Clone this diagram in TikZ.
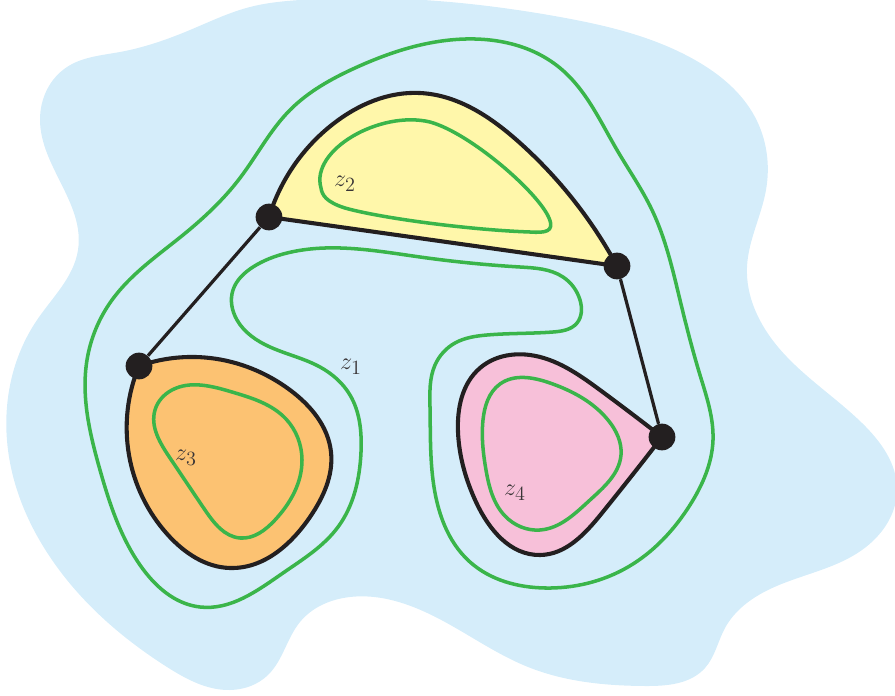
\documentclass[tikz,border=0pt]{standalone}
\usepackage{amsmath,amssymb}
\usepackage{tikz}
\usetikzlibrary{positioning,calc,hobby}
\usepackage{xcolor}
\definecolor{skyfill}{RGB}{213,237,250}
\definecolor{lemon}{RGB}{255,247,170}
\definecolor{peach}{RGB}{252,194,114}
\definecolor{blush}{RGB}{247,192,217}
\definecolor{loopgreen}{RGB}{58,181,74}
\definecolor{ink}{RGB}{35,31,32}

\begin{document}
\begin{tikzpicture}[x=0.025cm,y=-0.025cm,
  smoothloop/.style={use Hobby shortcut,closed=true},
  vertex/.style={circle,fill=ink,inner sep=0pt,minimum size=19pt},
  face/.style={use Hobby shortcut,draw=ink,line width=2.9pt,line join=round},
  contour/.style={draw=loopgreen,line width=2.5pt},
  edge/.style={draw=ink,line width=2.3pt},
  zlabel/.style={font=\fontsize{19}{22}\selectfont,text=ink!90}]
\useasboundingbox (0,0) rectangle (895,696);
\clip (0,0) rectangle (895,696);
% Background region
\fill[skyfill,smoothloop] (300,0) .. (560,17) .. (695,60) .. (755,117)
  .. (766,190) .. (747,267) .. (778,347) .. (862,423) .. (897,490)
  .. (862,550) .. (768,590) .. (725,628) .. (705,668) .. (645,686)
  .. (528,667) .. (445,622) .. (350,597) .. (300,622) .. (268,675)
  .. (230,690) .. (167,667) .. (50,557) .. (8,450) .. (37,320) .. (78,250)
  .. (40,120) .. (67,67) .. (120,52) .. (190,30) .. (250,7);
% Vertices
\coordinate (v1) at (269,217);
\coordinate (v2) at (617,266);
\coordinate (v3) at (139,366);
\coordinate (v4) at (662,437);
% Faces
\path[face,fill=lemon] (v1) .. (333,124) .. (420,93) .. (520,143)
  .. (v2) -- cycle;
\path[face,fill=peach] (v3) .. (210,358) .. (290,390) .. (331,452)
  .. (310,517) .. (230,568) .. (168,535) .. (129,455) .. (v3) -- cycle;
\path[face,fill=blush] (v4) .. (600,390) .. (530,355) .. (480,368)
  .. (458,432) .. (476,502) .. (540,555) .. (602,513) .. (v4) -- cycle;
% Contours
\path[contour,smoothloop] (450,40) .. (560,68) .. (617,150) .. (652,210)
  .. (680,300) .. (700,375) .. (713,440) .. (690,505) .. (628,567)
  .. (545,588) .. (470,562) .. (433,480) .. (430,407) .. (435,365)
  .. (455,343) .. (487,335) .. (553,332) .. (577,323) .. (580,300)
  .. (563,277) .. (520,267) .. (420,257) .. (287,253) .. (253,267)
  .. (233,290) .. (237,320) .. (270,347) .. (320,367) .. (350,395)
  .. (361,452) .. (338,527) .. (283,573) .. (200,607) .. (140,565)
  .. (100,470) .. (87,360) .. (112,300) .. (183,235) .. (240,178)
  .. (290,110) .. (355,68);
\path[contour] (321,188) .. controls (310,150) and (380,110) .. (430,122)
  .. controls (470,133) and (538,192) .. (549,218)
  .. controls (555,232) and (545,233) .. (530,232)
  .. controls (470,230) and (380,218) .. (345,208)
  .. controls (326,202) and (322,195) .. (321,188) -- cycle;
\path[contour,smoothloop] (155,410) .. (172,390) .. (232,392) .. (286,419)
  .. (302,460) .. (275,520) .. (240,538) .. (205,510) .. (170,458);
\path[contour,smoothloop] (483,420) .. (500,384) .. (550,383) .. (608,420)
  .. (621,455) .. (590,500) .. (540,530) .. (505,516) .. (486,470);
% Vertex dots and edges
\node[vertex] (a) at (v1) {};
\node[vertex] (b) at (v2) {};
\node[vertex] (c) at (v3) {};
\node[vertex] (d) at (v4) {};
\draw[edge] (a) -- (c);
\draw[edge] (b) -- (d);
% Labels
\node[zlabel] (l1) at (351,367) {$z_1$};
\node[zlabel] (l2) at (345,184) {$z_2$};
\node[zlabel] (l3) at (186,458) {$z_3$};
\node[zlabel] (l4) at (515,493) {$z_4$};
\end{tikzpicture}
\end{document}
